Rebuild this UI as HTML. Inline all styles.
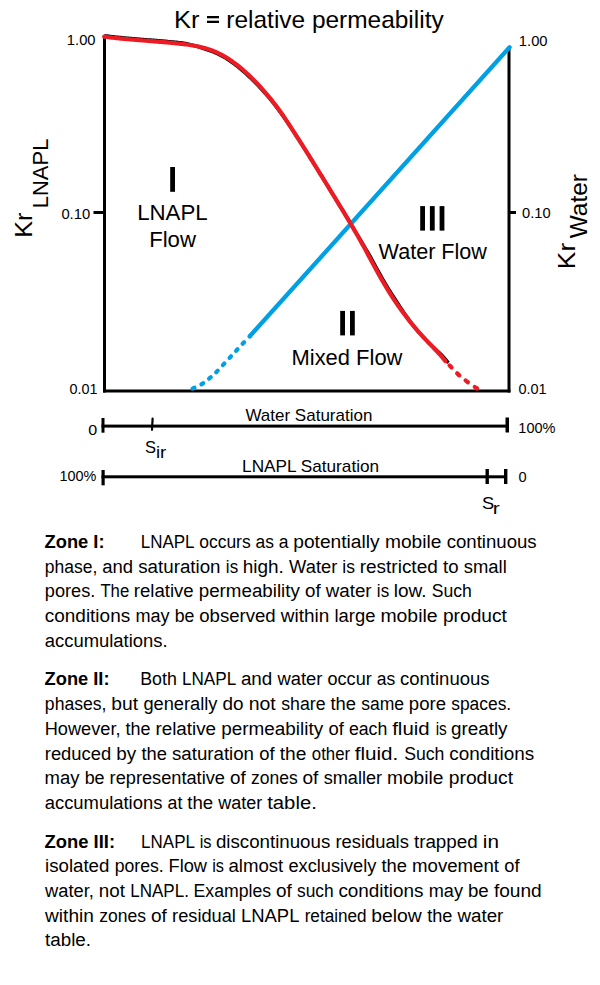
<!DOCTYPE html>
<html><head><meta charset="utf-8"><style>
html,body{margin:0;padding:0;background:#fff;}
body{width:600px;height:985px;overflow:hidden;}
svg{display:block;font-family:"Liberation Sans", sans-serif;}
</style></head><body>
<svg width="600" height="985" viewBox="0 0 600 985">
<text x="173.91" y="28.00" font-size="24.4" textLength="25.52" lengthAdjust="spacingAndGlyphs" fill="#000">Kr</text>
<rect x="207" y="16" width="12" height="2.3" fill="#000"/>
<rect x="207" y="20.7" width="12" height="2.3" fill="#000"/>
<text x="226.38" y="28.00" font-size="24.4" textLength="217.27" lengthAdjust="spacingAndGlyphs" fill="#000">relative permeability</text>
<rect x="103" y="36" width="3" height="356.5" fill="#000"/>
<rect x="103" y="389.5" width="407.5" height="3" fill="#000"/>
<rect x="507.5" y="47.5" width="3" height="345" fill="#000"/>
<rect x="93.5" y="211" width="10" height="3" fill="#000"/>
<rect x="510" y="211" width="6" height="3" fill="#000"/>
<rect x="101.5" y="424.6" width="404.5" height="3" fill="#000"/>
<rect x="101.5" y="418" width="3" height="14.7" fill="#000"/>
<rect x="505.5" y="417.5" width="3.5" height="15" fill="#000"/>
<path d="M152.6,418.6 L152.0,429.8" stroke="#000" stroke-width="2.2" stroke-linecap="round"/>
<rect x="101.5" y="475.3" width="404.5" height="3" fill="#000"/>
<rect x="101.5" y="470" width="3.2" height="15.3" fill="#000"/>
<rect x="504" y="469" width="3.4" height="15" fill="#000"/>
<rect x="485.5" y="469" width="3.4" height="15" fill="#000"/>
<text x="66.88" y="45.30" font-size="14" textLength="28.70" lengthAdjust="spacingAndGlyphs" fill="#000">1.00</text>
<text x="61.42" y="219.00" font-size="14" textLength="28.75" lengthAdjust="spacingAndGlyphs" fill="#000">0.10</text>
<text x="69.44" y="394.00" font-size="14" textLength="27.96" lengthAdjust="spacingAndGlyphs" fill="#000">0.01</text>
<text x="518.88" y="45.60" font-size="14" textLength="28.70" lengthAdjust="spacingAndGlyphs" fill="#000">1.00</text>
<text x="522.03" y="218.00" font-size="14" textLength="28.55" lengthAdjust="spacingAndGlyphs" fill="#000">0.10</text>
<text x="518.43" y="394.00" font-size="14" textLength="28.17" lengthAdjust="spacingAndGlyphs" fill="#000">0.01</text>
<text x="88.37" y="435.30" font-size="14" textLength="8.96" lengthAdjust="spacingAndGlyphs" fill="#000">0</text>
<text x="518.39" y="432.80" font-size="14" textLength="37.12" lengthAdjust="spacingAndGlyphs" fill="#000">100%</text>
<text x="59.60" y="481.00" font-size="14" textLength="36.81" lengthAdjust="spacingAndGlyphs" fill="#000">100%</text>
<text x="518.43" y="481.90" font-size="14" textLength="8.14" lengthAdjust="spacingAndGlyphs" fill="#000">0</text>
<text x="245.43" y="421.00" font-size="17" textLength="126.97" lengthAdjust="spacingAndGlyphs" fill="#000">Water Saturation</text>
<text x="242.10" y="472.00" font-size="17" textLength="137.02" lengthAdjust="spacingAndGlyphs" fill="#000">LNAPL Saturation</text>
<text x="145.05" y="452.80" font-size="17" textLength="11.01" lengthAdjust="spacingAndGlyphs" fill="#000">S</text>
<text x="155.95" y="457.50" font-size="17" textLength="10.36" lengthAdjust="spacingAndGlyphs" fill="#000">ir</text>
<text x="482.07" y="508.80" font-size="17" textLength="12.17" lengthAdjust="spacingAndGlyphs" fill="#000">S</text>
<text x="492.69" y="513.60" font-size="17" textLength="7.06" lengthAdjust="spacingAndGlyphs" fill="#000">r</text>
<rect x="170.2" y="167" width="4.8" height="24.8" fill="#000"/>
<rect x="340.2" y="310.9" width="4.8" height="24.5" fill="#000"/>
<rect x="350.0" y="310.9" width="4.8" height="24.5" fill="#000"/>
<rect x="420.2" y="206.1" width="4.8" height="24.5" fill="#000"/>
<rect x="429.9" y="206.1" width="4.8" height="24.5" fill="#000"/>
<rect x="439.6" y="206.1" width="4.8" height="24.5" fill="#000"/>
<text x="137.17" y="220.40" font-size="22" textLength="70.57" lengthAdjust="spacingAndGlyphs" fill="#000">LNAPL</text>
<text x="149.18" y="247.40" font-size="22" textLength="46.76" lengthAdjust="spacingAndGlyphs" fill="#000">Flow</text>
<text x="291.50" y="364.70" font-size="22" textLength="110.95" lengthAdjust="spacingAndGlyphs" fill="#000">Mixed Flow</text>
<text x="378.61" y="258.90" font-size="22" textLength="108.34" lengthAdjust="spacingAndGlyphs" fill="#000">Water Flow</text>
<text transform="translate(31.90,237.77) rotate(-90)" x="0" y="0" font-size="24" textLength="25.29" lengthAdjust="spacingAndGlyphs">Kr</text>
<text transform="translate(48.40,208.31) rotate(-90)" x="0" y="0" font-size="22" textLength="69.74" lengthAdjust="spacingAndGlyphs">LNAPL</text>
<text transform="translate(575.40,269.16) rotate(-90)" x="0" y="0" font-size="24" textLength="26.29" lengthAdjust="spacingAndGlyphs">Kr</text>
<text transform="translate(586.60,238.31) rotate(-90)" x="0" y="0" font-size="24" textLength="64.21" lengthAdjust="spacingAndGlyphs">Water</text>
<text x="44.55" y="548.00" font-size="17.7" font-weight="bold" textLength="60.01" lengthAdjust="spacingAndGlyphs" fill="#000">Zone I:</text>
<text x="140.71" y="548.00" font-size="18" textLength="53.86" lengthAdjust="spacingAndGlyphs">LNAPL</text>
<text x="199.27" y="548.00" font-size="18" textLength="51.39" lengthAdjust="spacingAndGlyphs">occurs</text>
<text x="255.51" y="548.00" font-size="18" textLength="18.41" lengthAdjust="spacingAndGlyphs">as</text>
<text x="278.76" y="548.00" font-size="18" textLength="9.75" lengthAdjust="spacingAndGlyphs">a</text>
<text x="293.26" y="548.00" font-size="18" textLength="86.38" lengthAdjust="spacingAndGlyphs">potentially</text>
<text x="384.98" y="548.00" font-size="18" textLength="56.39" lengthAdjust="spacingAndGlyphs">mobile</text>
<text x="446.71" y="548.00" font-size="18" textLength="89.96" lengthAdjust="spacingAndGlyphs">continuous</text>
<text x="44.87" y="572.70" font-size="18" textLength="52.52" lengthAdjust="spacingAndGlyphs">phase,</text>
<text x="102.21" y="572.70" font-size="18" textLength="30.88" lengthAdjust="spacingAndGlyphs">and</text>
<text x="138.23" y="572.70" font-size="18" textLength="82.31" lengthAdjust="spacingAndGlyphs">saturation</text>
<text x="225.87" y="572.70" font-size="18" textLength="12.25" lengthAdjust="spacingAndGlyphs">is</text>
<text x="242.68" y="572.70" font-size="18" textLength="41.16" lengthAdjust="spacingAndGlyphs">high.</text>
<text x="289.12" y="572.70" font-size="18" textLength="48.15" lengthAdjust="spacingAndGlyphs">Water</text>
<text x="342.33" y="572.70" font-size="18" textLength="12.64" lengthAdjust="spacingAndGlyphs">is</text>
<text x="359.74" y="572.70" font-size="18" textLength="78.00" lengthAdjust="spacingAndGlyphs">restricted</text>
<text x="443.02" y="572.70" font-size="18" textLength="15.50" lengthAdjust="spacingAndGlyphs">to</text>
<text x="463.69" y="572.70" font-size="18" textLength="43.05" lengthAdjust="spacingAndGlyphs">small</text>
<text x="44.83" y="597.40" font-size="18" textLength="50.51" lengthAdjust="spacingAndGlyphs">pores.</text>
<text x="100.42" y="597.40" font-size="18" textLength="28.82" lengthAdjust="spacingAndGlyphs">The</text>
<text x="133.77" y="597.40" font-size="18" textLength="59.88" lengthAdjust="spacingAndGlyphs">relative</text>
<text x="198.79" y="597.40" font-size="18" textLength="101.02" lengthAdjust="spacingAndGlyphs">permeability</text>
<text x="305.01" y="597.40" font-size="18" textLength="15.61" lengthAdjust="spacingAndGlyphs">of</text>
<text x="325.83" y="597.40" font-size="18" textLength="45.73" lengthAdjust="spacingAndGlyphs">water</text>
<text x="376.86" y="597.40" font-size="18" textLength="12.27" lengthAdjust="spacingAndGlyphs">is</text>
<text x="393.76" y="597.40" font-size="18" textLength="32.78" lengthAdjust="spacingAndGlyphs">low.</text>
<text x="431.70" y="597.40" font-size="18" textLength="40.14" lengthAdjust="spacingAndGlyphs">Such</text>
<text x="44.79" y="622.10" font-size="18" textLength="85.38" lengthAdjust="spacingAndGlyphs">conditions</text>
<text x="135.50" y="622.10" font-size="18" textLength="34.12" lengthAdjust="spacingAndGlyphs">may</text>
<text x="174.66" y="622.10" font-size="18" textLength="19.68" lengthAdjust="spacingAndGlyphs">be</text>
<text x="199.22" y="622.10" font-size="18" textLength="76.44" lengthAdjust="spacingAndGlyphs">observed</text>
<text x="280.83" y="622.10" font-size="18" textLength="48.43" lengthAdjust="spacingAndGlyphs">within</text>
<text x="334.56" y="622.10" font-size="18" textLength="40.82" lengthAdjust="spacingAndGlyphs">large</text>
<text x="380.41" y="622.10" font-size="18" textLength="57.15" lengthAdjust="spacingAndGlyphs">mobile</text>
<text x="442.97" y="622.10" font-size="18" textLength="63.87" lengthAdjust="spacingAndGlyphs">product</text>
<text x="44.72" y="646.80" font-size="18" textLength="122.97" lengthAdjust="spacingAndGlyphs">accumulations.</text>
<text x="44.56" y="685.40" font-size="17.7" font-weight="bold" textLength="65.00" lengthAdjust="spacingAndGlyphs" fill="#000">Zone II:</text>
<text x="140.24" y="685.40" font-size="18" textLength="36.65" lengthAdjust="spacingAndGlyphs">Both</text>
<text x="181.89" y="685.40" font-size="18" textLength="54.32" lengthAdjust="spacingAndGlyphs">LNAPL</text>
<text x="240.90" y="685.40" font-size="18" textLength="31.40" lengthAdjust="spacingAndGlyphs">and</text>
<text x="277.53" y="685.40" font-size="18" textLength="44.90" lengthAdjust="spacingAndGlyphs">water</text>
<text x="327.54" y="685.40" font-size="18" textLength="44.17" lengthAdjust="spacingAndGlyphs">occur</text>
<text x="376.76" y="685.40" font-size="18" textLength="18.45" lengthAdjust="spacingAndGlyphs">as</text>
<text x="400.01" y="685.40" font-size="18" textLength="89.56" lengthAdjust="spacingAndGlyphs">continuous</text>
<text x="44.87" y="710.10" font-size="18" textLength="61.61" lengthAdjust="spacingAndGlyphs">phases,</text>
<text x="111.26" y="710.10" font-size="18" textLength="26.78" lengthAdjust="spacingAndGlyphs">but</text>
<text x="143.43" y="710.10" font-size="18" textLength="74.03" lengthAdjust="spacingAndGlyphs">generally</text>
<text x="222.51" y="710.10" font-size="18" textLength="21.00" lengthAdjust="spacingAndGlyphs">do</text>
<text x="248.71" y="710.10" font-size="18" textLength="27.05" lengthAdjust="spacingAndGlyphs">not</text>
<text x="281.21" y="710.10" font-size="18" textLength="44.39" lengthAdjust="spacingAndGlyphs">share</text>
<text x="330.52" y="710.10" font-size="18" textLength="25.56" lengthAdjust="spacingAndGlyphs">the</text>
<text x="361.21" y="710.10" font-size="18" textLength="42.80" lengthAdjust="spacingAndGlyphs">same</text>
<text x="408.80" y="710.10" font-size="18" textLength="37.21" lengthAdjust="spacingAndGlyphs">pore</text>
<text x="451.22" y="710.10" font-size="18" textLength="59.97" lengthAdjust="spacingAndGlyphs">spaces.</text>
<text x="44.73" y="734.80" font-size="18" textLength="75.81" lengthAdjust="spacingAndGlyphs">However,</text>
<text x="125.53" y="734.80" font-size="18" textLength="24.99" lengthAdjust="spacingAndGlyphs">the</text>
<text x="155.45" y="734.80" font-size="18" textLength="60.61" lengthAdjust="spacingAndGlyphs">relative</text>
<text x="221.28" y="734.80" font-size="18" textLength="101.87" lengthAdjust="spacingAndGlyphs">permeability</text>
<text x="328.43" y="734.80" font-size="18" textLength="15.37" lengthAdjust="spacingAndGlyphs">of</text>
<text x="348.95" y="734.80" font-size="18" textLength="38.38" lengthAdjust="spacingAndGlyphs">each</text>
<text x="392.21" y="734.80" font-size="18" textLength="37.45" lengthAdjust="spacingAndGlyphs">fluid</text>
<text x="435.67" y="734.80" font-size="18" textLength="11.11" lengthAdjust="spacingAndGlyphs">is</text>
<text x="450.91" y="734.80" font-size="18" textLength="56.63" lengthAdjust="spacingAndGlyphs">greatly</text>
<text x="44.78" y="759.50" font-size="18" textLength="66.43" lengthAdjust="spacingAndGlyphs">reduced</text>
<text x="116.29" y="759.50" font-size="18" textLength="19.90" lengthAdjust="spacingAndGlyphs">by</text>
<text x="141.42" y="759.50" font-size="18" textLength="25.48" lengthAdjust="spacingAndGlyphs">the</text>
<text x="171.98" y="759.50" font-size="18" textLength="82.04" lengthAdjust="spacingAndGlyphs">saturation</text>
<text x="259.23" y="759.50" font-size="18" textLength="15.37" lengthAdjust="spacingAndGlyphs">of</text>
<text x="279.71" y="759.50" font-size="18" textLength="26.66" lengthAdjust="spacingAndGlyphs">the</text>
<text x="311.79" y="759.50" font-size="18" textLength="38.30" lengthAdjust="spacingAndGlyphs">other</text>
<text x="354.71" y="759.50" font-size="18" textLength="43.62" lengthAdjust="spacingAndGlyphs">fluid.</text>
<text x="404.20" y="759.50" font-size="18" textLength="40.16" lengthAdjust="spacingAndGlyphs">Such</text>
<text x="449.20" y="759.50" font-size="18" textLength="85.09" lengthAdjust="spacingAndGlyphs">conditions</text>
<text x="44.57" y="784.20" font-size="18" textLength="34.90" lengthAdjust="spacingAndGlyphs">may</text>
<text x="84.64" y="784.20" font-size="18" textLength="19.98" lengthAdjust="spacingAndGlyphs">be</text>
<text x="109.59" y="784.20" font-size="18" textLength="115.39" lengthAdjust="spacingAndGlyphs">representative</text>
<text x="230.01" y="784.20" font-size="18" textLength="15.70" lengthAdjust="spacingAndGlyphs">of</text>
<text x="250.99" y="784.20" font-size="18" textLength="46.71" lengthAdjust="spacingAndGlyphs">zones</text>
<text x="302.50" y="784.20" font-size="18" textLength="15.88" lengthAdjust="spacingAndGlyphs">of</text>
<text x="323.70" y="784.20" font-size="18" textLength="58.37" lengthAdjust="spacingAndGlyphs">smaller</text>
<text x="387.03" y="784.20" font-size="18" textLength="56.42" lengthAdjust="spacingAndGlyphs">mobile</text>
<text x="448.76" y="784.20" font-size="18" textLength="64.28" lengthAdjust="spacingAndGlyphs">product</text>
<text x="44.72" y="808.90" font-size="18" textLength="117.68" lengthAdjust="spacingAndGlyphs">accumulations</text>
<text x="167.55" y="808.90" font-size="18" textLength="14.77" lengthAdjust="spacingAndGlyphs">at</text>
<text x="187.22" y="808.90" font-size="18" textLength="25.93" lengthAdjust="spacingAndGlyphs">the</text>
<text x="218.33" y="808.90" font-size="18" textLength="43.91" lengthAdjust="spacingAndGlyphs">water</text>
<text x="267.19" y="808.90" font-size="18" textLength="49.66" lengthAdjust="spacingAndGlyphs">table.</text>
<text x="44.55" y="847.60" font-size="17.7" font-weight="bold" textLength="70.52" lengthAdjust="spacingAndGlyphs" fill="#000">Zone III:</text>
<text x="141.11" y="847.60" font-size="18" textLength="53.84" lengthAdjust="spacingAndGlyphs">LNAPL</text>
<text x="199.71" y="847.60" font-size="18" textLength="11.78" lengthAdjust="spacingAndGlyphs">is</text>
<text x="215.91" y="847.60" font-size="18" textLength="114.35" lengthAdjust="spacingAndGlyphs">discontinuous</text>
<text x="335.48" y="847.60" font-size="18" textLength="73.35" lengthAdjust="spacingAndGlyphs">residuals</text>
<text x="413.92" y="847.60" font-size="18" textLength="63.80" lengthAdjust="spacingAndGlyphs">trapped</text>
<text x="482.81" y="847.60" font-size="18" textLength="16.13" lengthAdjust="spacingAndGlyphs">in</text>
<text x="45.00" y="872.30" font-size="18" textLength="64.40" lengthAdjust="spacingAndGlyphs">isolated</text>
<text x="114.66" y="872.30" font-size="18" textLength="48.99" lengthAdjust="spacingAndGlyphs">pores.</text>
<text x="168.50" y="872.30" font-size="18" textLength="38.51" lengthAdjust="spacingAndGlyphs">Flow</text>
<text x="212.21" y="872.30" font-size="18" textLength="11.77" lengthAdjust="spacingAndGlyphs">is</text>
<text x="228.41" y="872.30" font-size="18" textLength="54.83" lengthAdjust="spacingAndGlyphs">almost</text>
<text x="288.43" y="872.30" font-size="18" textLength="87.94" lengthAdjust="spacingAndGlyphs">exclusively</text>
<text x="381.42" y="872.30" font-size="18" textLength="25.55" lengthAdjust="spacingAndGlyphs">the</text>
<text x="412.06" y="872.30" font-size="18" textLength="86.98" lengthAdjust="spacingAndGlyphs">movement</text>
<text x="504.23" y="872.30" font-size="18" textLength="15.24" lengthAdjust="spacingAndGlyphs">of</text>
<text x="45.03" y="897.00" font-size="18" textLength="48.80" lengthAdjust="spacingAndGlyphs">water,</text>
<text x="98.75" y="897.00" font-size="18" textLength="26.17" lengthAdjust="spacingAndGlyphs">not</text>
<text x="130.31" y="897.00" font-size="18" textLength="58.58" lengthAdjust="spacingAndGlyphs">LNAPL.</text>
<text x="193.55" y="897.00" font-size="18" textLength="77.50" lengthAdjust="spacingAndGlyphs">Examples</text>
<text x="275.90" y="897.00" font-size="18" textLength="15.80" lengthAdjust="spacingAndGlyphs">of</text>
<text x="297.02" y="897.00" font-size="18" textLength="36.63" lengthAdjust="spacingAndGlyphs">such</text>
<text x="338.40" y="897.00" font-size="18" textLength="85.10" lengthAdjust="spacingAndGlyphs">conditions</text>
<text x="428.80" y="897.00" font-size="18" textLength="34.20" lengthAdjust="spacingAndGlyphs">may</text>
<text x="468.00" y="897.00" font-size="18" textLength="20.75" lengthAdjust="spacingAndGlyphs">be</text>
<text x="493.93" y="897.00" font-size="18" textLength="47.80" lengthAdjust="spacingAndGlyphs">found</text>
<text x="45.03" y="921.70" font-size="18" textLength="48.88" lengthAdjust="spacingAndGlyphs">within</text>
<text x="99.29" y="921.70" font-size="18" textLength="46.80" lengthAdjust="spacingAndGlyphs">zones</text>
<text x="150.90" y="921.70" font-size="18" textLength="15.85" lengthAdjust="spacingAndGlyphs">of</text>
<text x="172.09" y="921.70" font-size="18" textLength="63.85" lengthAdjust="spacingAndGlyphs">residual</text>
<text x="240.99" y="921.70" font-size="18" textLength="58.46" lengthAdjust="spacingAndGlyphs">LNAPL</text>
<text x="304.66" y="921.70" font-size="18" textLength="61.97" lengthAdjust="spacingAndGlyphs">retained</text>
<text x="371.25" y="921.70" font-size="18" textLength="50.58" lengthAdjust="spacingAndGlyphs">below</text>
<text x="427.23" y="921.70" font-size="18" textLength="25.25" lengthAdjust="spacingAndGlyphs">the</text>
<text x="457.53" y="921.70" font-size="18" textLength="45.78" lengthAdjust="spacingAndGlyphs">water</text>
<text x="45.02" y="946.40" font-size="18" textLength="46.00" lengthAdjust="spacingAndGlyphs">table.</text>
<path d="M104.34,35.63 L105.83,35.83 L107.33,36.03 L108.82,36.22 L110.32,36.40 L111.82,36.58 L113.31,36.76 L114.81,36.92 L116.31,37.09 L117.80,37.25 L119.30,37.40 L120.80,37.56 L122.30,37.70 L123.79,37.85 L125.29,37.99 L126.79,38.13 L128.29,38.26 L129.79,38.39 L131.29,38.52 L132.78,38.65 L134.28,38.77 L135.78,38.90 L137.28,39.02 L138.78,39.14 L140.28,39.26 L141.78,39.37 L143.28,39.49 L144.78,39.61 L146.28,39.72 L147.78,39.84 L149.28,39.96 L150.78,40.07 L152.28,40.19 L153.78,40.31 L155.28,40.43 L156.78,40.55 L158.28,40.67 L159.78,40.79 L161.28,40.92 L162.78,41.04 L164.29,41.17 L165.79,41.30 L167.29,41.44 L168.79,41.57 L170.29,41.72 L171.80,41.86 L173.30,42.01 L174.80,42.16 L176.30,42.31 L177.81,42.47 L179.31,42.64 L180.81,42.80 L182.32,42.98 L183.82,43.16 L185.32,43.37 L186.81,43.71 L188.30,44.06 L189.78,44.42 L191.26,44.79 L192.75,45.18 L194.22,45.59 L195.70,46.01 L197.17,46.44 L198.64,46.90 L200.10,47.38 L201.56,47.87 L203.01,48.39 L204.46,48.94 L205.94,49.40 L207.43,49.85 L208.91,50.34 L210.40,50.86 L211.88,51.40 L213.37,51.98 L214.85,52.59 L216.33,53.24 L217.82,53.92 L219.30,54.64 L220.78,55.40 L222.27,56.20 L223.75,57.03 L225.24,57.90 L226.72,58.81 L228.21,59.76 L229.70,60.74 L231.19,61.76 L232.67,62.82 L234.16,63.91 L235.65,65.04 L237.14,66.20 L238.63,67.39 L240.12,68.62 L241.61,69.88 L243.11,71.17 L244.60,72.50 L246.09,73.85 L247.58,75.24 L249.08,76.66 L250.59,78.09 L252.10,79.55 L253.61,81.04 L255.13,82.55 L256.64,84.10 L258.16,85.67 L259.67,87.27 L261.19,88.90 L262.70,90.56 L264.22,92.24 L265.74,93.95 L267.26,95.69 L268.77,97.46 L270.29,99.27 L271.81,101.11 L273.33,102.99 L274.85,104.91 L276.36,106.87 L277.88,108.87 L279.40,110.92 L280.92,113.01 L282.44,115.15 L283.96,117.32 L285.49,119.53 L287.01,121.77 L288.53,124.03 L290.05,126.31 L291.57,128.60 L293.10,130.91 L294.62,133.22 L296.14,135.55 L297.67,137.88 L299.19,140.22 L300.70,142.57 L302.20,144.93 L303.70,147.31 L305.20,149.69 L306.70,152.07 L308.20,154.47 L309.70,156.86 L311.20,159.27 L312.70,161.67 L314.20,164.09 L315.70,166.50 L317.20,168.92 L318.70,171.35 L320.20,173.78 L321.70,176.21 L323.20,178.64 L324.70,181.08 L326.20,183.52 L327.70,185.96 L329.20,188.40 L330.70,190.85 L332.20,193.30 L333.70,195.75 L335.20,198.19 L336.70,200.64 L338.20,203.09 L339.70,205.55 L341.20,208.00 L342.70,210.46 L344.20,212.93 L345.70,215.41 L347.20,217.91 L348.70,220.41 L350.20,222.93 L351.70,225.47 L353.20,228.02 L354.70,230.60 L356.28,233.16 L357.87,235.73 L359.47,238.33 L361.07,240.95 L362.66,243.61 L364.26,246.29 L365.86,249.00 L367.45,251.72 L369.05,254.45 L370.65,257.18 L372.17,259.95 L373.67,262.73 L375.17,265.50 L376.67,268.25 L378.16,270.98 L379.66,273.68 L381.16,276.35 L382.65,278.98 L384.15,281.57 L385.65,284.12 L387.14,286.62 L388.64,289.08 L390.13,291.49 L391.63,293.86 L393.12,296.19 L394.62,298.49 L396.10,300.74 L397.53,303.00 L398.96,305.22 L400.39,307.40 L401.82,309.55 L403.25,311.66 L404.68,313.74 L406.11,315.78 L407.54,317.78 L408.97,319.76 L410.41,321.70 L411.84,323.61 L413.28,325.48 L414.71,327.33 L416.20,329.10 L417.70,330.84 L419.20,332.54 L420.70,334.21 L422.20,335.85 L423.70,337.47 L425.20,339.07 L426.70,340.64 L428.20,342.21 L429.70,343.77 L431.28,345.25 L432.88,346.71 L434.48,348.19 L436.08,349.68 L437.68,351.19 L439.29,352.72 L440.90,354.29 L442.51,355.90 L444.04,357.62 L445.54,359.40 L448.36,362.87" fill="none" stroke="#000" stroke-width="3.4"/>
<path d="M192.5,388.6 C194.2,387.8 199.7,385.4 202.6,383.6 C205.5,381.8 207.8,379.7 210.2,377.7 C212.5,375.7 214.4,374.0 216.7,371.7 C219.0,369.4 221.4,366.7 223.8,364.1 C226.2,361.5 229.1,358.4 231.3,356.0 C233.6,353.6 235.3,351.7 237.3,349.5 C239.3,347.3 241.2,345.2 243.3,343.0 C245.4,340.8 248.9,337.2 250.0,336.0" fill="none" stroke="#00a0e4" stroke-width="4.2" stroke-dasharray="2.2 7.5" stroke-linecap="round"/>
<path d="M250,336 L509.6,47.3" fill="none" stroke="#00a0e4" stroke-width="4.3" stroke-linecap="round"/>
<path d="M104.20,36.62 L105.70,36.82 L107.20,37.02 L108.70,37.21 L110.20,37.40 L111.70,37.58 L113.20,37.75 L114.70,37.92 L116.20,38.08 L117.70,38.24 L119.20,38.40 L120.70,38.55 L122.20,38.70 L123.70,38.84 L125.20,38.98 L126.70,39.12 L128.20,39.26 L129.70,39.39 L131.20,39.52 L132.70,39.65 L134.20,39.77 L135.70,39.89 L137.20,40.01 L138.70,40.13 L140.20,40.25 L141.70,40.37 L143.20,40.49 L144.70,40.61 L146.20,40.72 L147.70,40.84 L149.20,40.95 L150.70,41.07 L152.20,41.19 L153.70,41.30 L155.20,41.42 L156.70,41.54 L158.20,41.66 L159.70,41.79 L161.20,41.91 L162.70,42.04 L164.20,42.17 L165.70,42.30 L167.20,42.43 L168.70,42.57 L170.20,42.71 L171.70,42.85 L173.20,43.00 L174.70,43.15 L176.20,43.31 L177.70,43.47 L179.20,43.63 L180.70,43.80 L182.20,43.97 L183.70,44.15 L185.20,44.34 L186.70,44.54 L188.20,44.75 L189.70,44.97 L191.20,45.20 L192.70,45.45 L194.20,45.71 L195.70,45.99 L197.20,46.29 L198.70,46.61 L200.20,46.94 L201.70,47.31 L203.20,47.69 L204.70,48.10 L206.20,48.53 L207.70,49.00 L209.20,49.49 L210.70,50.01 L212.20,50.56 L213.70,51.15 L215.20,51.76 L216.70,52.42 L218.20,53.11 L219.70,53.84 L221.20,54.60 L222.70,55.41 L224.20,56.25 L225.70,57.13 L227.20,58.05 L228.70,59.01 L230.20,60.00 L231.70,61.03 L233.20,62.09 L234.70,63.19 L236.20,64.32 L237.70,65.49 L239.20,66.69 L240.70,67.93 L242.20,69.19 L243.70,70.49 L245.20,71.83 L246.70,73.19 L248.20,74.58 L249.70,76.01 L251.20,77.46 L252.70,78.94 L254.20,80.46 L255.70,82.00 L257.20,83.57 L258.70,85.17 L260.20,86.79 L261.70,88.44 L263.20,90.12 L264.70,91.82 L266.20,93.55 L267.70,95.32 L269.20,97.11 L270.70,98.94 L272.20,100.80 L273.70,102.70 L275.20,104.64 L276.70,106.62 L278.20,108.64 L279.70,110.71 L281.20,112.82 L282.70,114.97 L284.20,117.16 L285.70,119.39 L287.20,121.64 L288.70,123.91 L290.20,126.21 L291.70,128.52 L293.20,130.84 L294.70,133.17 L296.20,135.51 L297.70,137.85 L299.20,140.21 L300.70,142.57 L302.20,144.93 L303.70,147.31 L305.20,149.69 L306.70,152.07 L308.20,154.47 L309.70,156.86 L311.20,159.27 L312.70,161.67 L314.20,164.09 L315.70,166.50 L317.20,168.92 L318.70,171.35 L320.20,173.78 L321.70,176.21 L323.20,178.64 L324.70,181.08 L326.20,183.52 L327.70,185.96 L329.20,188.40 L330.70,190.85 L332.20,193.30 L333.70,195.75 L335.20,198.19 L336.70,200.64 L338.20,203.09 L339.70,205.55 L341.20,208.00 L342.70,210.46 L344.20,212.93 L345.70,215.41 L347.20,217.91 L348.70,220.41 L350.20,222.93 L351.70,225.47 L353.20,228.02 L354.70,230.60 L356.20,233.20 L357.70,235.83 L359.20,238.48 L360.70,241.16 L362.20,243.87 L363.70,246.60 L365.20,249.35 L366.70,252.12 L368.20,254.91 L369.70,257.69 L371.20,260.48 L372.70,263.26 L374.20,266.02 L375.70,268.78 L377.20,271.51 L378.70,274.22 L380.20,276.89 L381.70,279.53 L383.20,282.12 L384.70,284.68 L386.20,287.19 L387.70,289.65 L389.20,292.07 L390.70,294.45 L392.20,296.79 L393.70,299.09 L395.20,301.35 L396.70,303.57 L398.20,305.75 L399.70,307.89 L401.20,309.99 L402.70,312.06 L404.20,314.09 L405.70,316.09 L407.20,318.05 L408.70,319.97 L410.20,321.86 L411.70,323.72 L413.20,325.55 L414.70,327.34 L416.20,329.10 L417.70,330.84 L419.20,332.54 L420.70,334.21 L422.20,335.85 L423.70,337.47 L425.20,339.07 L426.70,340.64 L428.20,342.21 L429.70,343.77 L431.20,345.32 L432.70,346.88 L434.20,348.45 L435.70,350.03 L437.20,351.64 L438.70,353.26 L440.20,354.92 L441.70,356.60 L443.20,358.33 L444.70,360.11 L445.50,361.07" fill="none" stroke="#ed1c24" stroke-width="4.2" stroke-linecap="round"/>
<path d="M445.5,361.0 C446.4,362.0 448.8,364.6 450.9,366.8 C453.0,369.0 455.3,371.7 457.9,374.1 C460.5,376.5 463.7,379.0 466.7,381.3 C469.7,383.6 473.8,386.4 476.0,387.8 C478.2,389.2 479.3,389.6 480.0,390.0" fill="none" stroke="#ed1c24" stroke-width="4.2" stroke-dasharray="3 8" stroke-dashoffset="-6" stroke-linecap="round"/>
</svg>
</body></html>
